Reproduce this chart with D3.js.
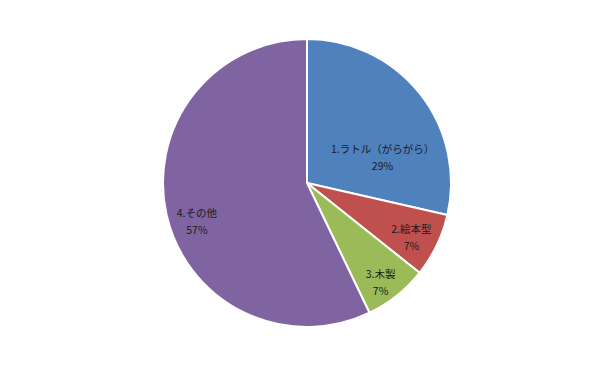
<!DOCTYPE html>
<html>
<head>
<meta charset="utf-8">
<script src="https://cdn.jsdelivr.net/npm/d3@7"></script>
<style>
  body { margin: 0; background: #fff; }
  text { font-family: "Noto Sans CJK JP", sans-serif; font-size: 10.5px; fill: #1a1a1a; }
</style>
</head>
<body>
<div id="chart"></div>
<script>
const categories = ["1.ラトル（がらがら）", "2.絵本型", "3.木製", "4.その他"];
const counts = [4, 1, 1, 8];
const colors = ["#4F81BD", "#C0504D", "#9BBB59", "#8064A2"];

const width = 615;
const height = 366;
const cx = 307;
const cy = 183;
const radius = 144;

const svg = d3.select("#chart")
    .append("svg")
    .attr("width", width)
    .attr("height", height)
    .append("g")
    .attr("transform", `translate(${cx},${cy})`);

const total = d3.sum(counts);
const pie = d3.pie().sort(null).value(d => d);
const arcs = pie(counts);

const arc = d3.arc().innerRadius(0).outerRadius(radius);

svg.selectAll("path")
    .data(arcs)
    .join("path")
    .attr("d", arc)
    .attr("fill", (d, i) => colors[i])
    .attr("stroke", "#fff")
    .attr("stroke-width", 2);

// excel "best fit" placement: labels sit near 0.82 r, with small nudges
const nudge = [[0, 1], [-2, 3.5], [0, 8], [5, 13]];

function labelPos(d, i) {
    let a = (d.startAngle + d.endAngle) / 2;
    let r = radius * 0.82;
    if (i === 0) { a += 0.34; r = radius * 0.555; } // wide label pulled inward
    return [Math.sin(a) * r + nudge[i][0], -Math.cos(a) * r + nudge[i][1]];
}

const labels = svg.selectAll("g.label")
    .data(arcs)
    .join("g")
    .attr("class", "label")
    .attr("transform", (d, i) => `translate(${labelPos(d, i)})`);

labels.append("text")
    .attr("text-anchor", "middle")
    .attr("y", -5)
    .text((d, i) => categories[i]);

labels.append("text")
    .attr("text-anchor", "middle")
    .attr("y", 12)
    .text(d => d3.format(".0%")(d.data / total));
</script>
</body>
</html>
